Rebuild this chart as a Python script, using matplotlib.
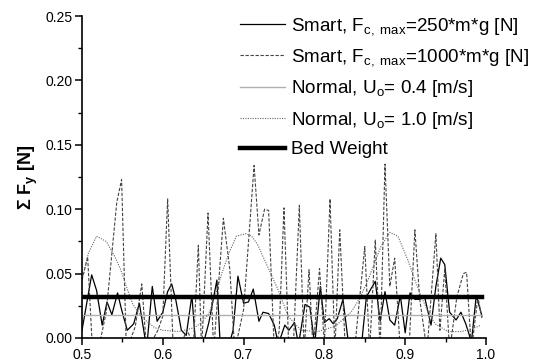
import numpy as np
import matplotlib
matplotlib.use("Agg")
from matplotlib import pyplot as plt
from matplotlib.ticker import MultipleLocator

plt.rcParams['font.family'] = ['Liberation Sans', 'DejaVu Sans']
plt.rcParams['mathtext.fontset'] = 'custom'
plt.rcParams['mathtext.rm'] = 'Liberation Sans'
plt.rcParams['mathtext.it'] = 'Liberation Sans'
plt.rcParams['mathtext.bf'] = 'Liberation Sans:bold'

# smart, Fc,max = 250*m*g
x_s250 = [0.500, 0.512, 0.518, 0.525, 0.531, 0.537, 0.544, 0.549, 0.556, 0.564,
          0.571, 0.580, 0.587, 0.593, 0.600, 0.606, 0.611, 0.616, 0.623, 0.629,
          0.636, 0.641, 0.650, 0.657, 0.667, 0.671, 0.680, 0.687, 0.693, 0.700,
          0.706, 0.712, 0.719, 0.724, 0.731, 0.738, 0.743, 0.751, 0.756, 0.763,
          0.768, 0.776, 0.782, 0.788, 0.795, 0.800, 0.806, 0.811, 0.816, 0.823,
          0.830, 0.838, 0.846, 0.852, 0.863, 0.869, 0.875, 0.881, 0.887, 0.894,
          0.900, 0.906, 0.912, 0.918, 0.924, 0.932, 0.938, 0.944, 0.949, 0.955,
          0.963, 0.969, 0.975, 0.982, 0.988, 0.995]
y_s250 = [0.006, 0.049, 0.037, 0.010, 0.028, 0.018, 0.035, 0.022, 0.006, 0.011,
          0.027, -0.008, 0.040, 0.013, 0.020, 0.036, 0.042, 0.030, 0.006, 0.002,
          0.033, -0.008, -0.005, 0.012, 0.045, -0.005, -0.010, 0.006, 0.048, 0.027,
          0.028, 0.038, 0.013, 0.020, 0.019, 0.010, -0.005, 0.010, 0.006, 0.012,
          -0.005, 0.026, 0.024, -0.005, 0.040, 0.012, 0.015, 0.011, 0.015, 0.030,
          -0.005, -0.010, -0.005, 0.032, 0.044, 0.013, 0.036, 0.014, 0.010, 0.033,
          0.004, 0.035, 0.030, 0.030, 0.032, 0.010, 0.040, 0.062, 0.057, 0.020,
          0.014, 0.020, 0.011, -0.003, 0.033, 0.017]

# smart, Fc,max = 1000*m*g
x_s1000 = [0.500, 0.507, 0.513, 0.520, 0.530, 0.543, 0.549, 0.555, 0.566, 0.574,
           0.580, 0.594, 0.600, 0.606, 0.613, 0.622, 0.630, 0.638, 0.644, 0.648,
           0.656, 0.663, 0.675, 0.683, 0.689, 0.700, 0.713, 0.719, 0.726, 0.731,
           0.738, 0.744, 0.750, 0.756, 0.762, 0.769, 0.775, 0.781, 0.786, 0.794,
           0.800, 0.807, 0.813, 0.819, 0.826, 0.838, 0.850, 0.856, 0.863, 0.869,
           0.875, 0.881, 0.887, 0.894, 0.905, 0.912, 0.918, 0.927, 0.938, 0.943,
           0.949, 0.955, 0.964, 0.972, 0.976, 0.982, 0.990, 0.995]
y_s1000 = [0.045, 0.063, -0.010, -0.010, 0.020, 0.105, 0.123, -0.010, 0.009, 0.042,
           -0.010, 0.006, 0.017, 0.108, -0.010, -0.005, 0.006, -0.005, 0.072, -0.010,
           0.097, -0.010, 0.093, 0.053, -0.010, 0.022, 0.134, 0.080, 0.100, 0.099,
           -0.010, 0.005, 0.101, -0.010, 0.000, 0.103, -0.010, 0.053, -0.010, 0.054,
           -0.005, 0.108, -0.010, 0.084, -0.010, -0.005, 0.071, -0.010, 0.076, -0.010,
           0.135, 0.040, 0.062, -0.010, -0.005, 0.084, 0.030, -0.010, 0.081, 0.006,
           0.054, -0.010, 0.032, 0.050, 0.051, -0.010, 0.032, 0.015]

# normal, Uo = 0.4
x_n04 = [0.500, 0.600, 0.700, 0.800, 0.900, 0.995]
y_n04 = [0.018, 0.018, 0.018, 0.018, 0.018, 0.018]

# normal, Uo = 1.0
x_n10 = [0.500, 0.508, 0.518, 0.530, 0.540, 0.548, 0.556, 0.563, 0.572, 0.580,
         0.590, 0.600, 0.620, 0.639, 0.648, 0.657, 0.665, 0.673, 0.682, 0.691,
         0.703, 0.710, 0.717, 0.730, 0.743, 0.755, 0.771, 0.792, 0.813, 0.833,
         0.844, 0.854, 0.862, 0.870, 0.881, 0.891, 0.903, 0.912, 0.920, 0.930,
         0.937, 0.953, 0.969, 0.982, 0.994]
y_n10 = [0.045, 0.066, 0.079, 0.075, 0.064, 0.053, 0.038, 0.026, 0.018, 0.013,
         0.008, 0.006, 0.005, 0.008, 0.012, 0.019, 0.033, 0.050, 0.066, 0.079,
         0.081, 0.079, 0.073, 0.055, 0.037, 0.017, 0.006, 0.005, 0.009, 0.020,
         0.031, 0.045, 0.058, 0.071, 0.082, 0.079, 0.061, 0.045, 0.032, 0.018,
         0.011, 0.005, 0.005, 0.007, 0.010]

# bed weight
x_bed = [0.500, 0.995]
y_bed = [0.032, 0.032]

fig = plt.figure(figsize=(5.38, 3.63), dpi=100)
ax = fig.add_axes([0.1524, 0.0689, 0.7509, 0.887])

ax.plot(x_s250, y_s250, color='black', lw=0.9,
        label='Smart, F$_{\\mathregular{c,\\ max}}$=250*m*g [N]')
ax.plot(x_s1000, y_s1000, color='#444444', lw=0.8, ls=(0, (3, 1.5)),
        label='Smart, F$_{\\mathregular{c,\\ max}}$=1000*m*g [N]')
ax.plot(x_n04, y_n04, color='#b0b0b0', lw=1.0,
        label='Normal, U$_{\\mathregular{o}}$= 0.4 [m/s]')
ax.plot(x_n10, y_n10, color='#666666', lw=0.8, ls=(0, (1, 1.2)),
        label='Normal, U$_{\\mathregular{o}}$= 1.0 [m/s]')
ax.plot(x_bed, y_bed, color='black', lw=3.2, label='Bed Weight')

ax.set_xlim(0.5, 1.0)
ax.set_ylim(0.0, 0.25)
ax.xaxis.set_major_locator(MultipleLocator(0.1))
ax.xaxis.set_minor_locator(MultipleLocator(0.05))
ax.yaxis.set_major_locator(MultipleLocator(0.05))
ax.yaxis.set_minor_locator(MultipleLocator(0.025))
ax.xaxis.set_major_formatter(plt.FormatStrFormatter('%.1f'))
ax.yaxis.set_major_formatter(plt.FormatStrFormatter('%.2f'))

for s in ['top', 'right']:
    ax.spines[s].set_visible(False)
for s in ['left', 'bottom']:
    ax.spines[s].set_linewidth(1.2)
ax.tick_params(which='major', direction='out', length=5, width=1.1, labelsize=10, pad=2)
ax.tick_params(which='minor', direction='out', length=3, width=1.0)

ax.set_ylabel('$\\mathbf{\\Sigma}$ F$_\\mathbf{y}$ [N]', fontsize=13, fontweight='bold', labelpad=4)

ax.legend(loc='upper right', bbox_to_anchor=(0.993, 0.972), bbox_transform=fig.transFigure,
          frameon=False, fontsize=13.6, handlelength=2.43, handletextpad=0.27,
          labelspacing=0.55, borderaxespad=0.0, borderpad=0.3)

fig.savefig('out.png', dpi=100)
